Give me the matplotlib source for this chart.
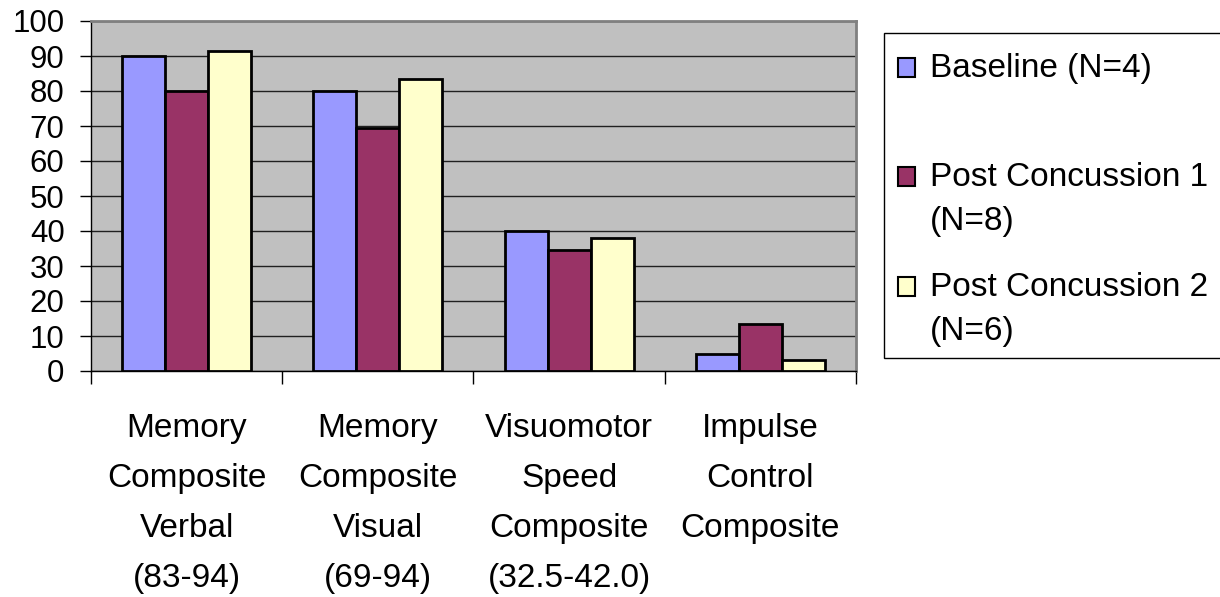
#!/usr/bin/env python3

import numpy as np
import matplotlib.pyplot as plt
from matplotlib.patches import Rectangle

categories = [
    "Memory\nComposite\nVerbal\n(83-94)",
    "Memory\nComposite\nVisual\n(69-94)",
    "Visuomotor\nSpeed\nComposite\n(32.5-42.0)",
    "Impulse\nControl\nComposite",
]
baseline = [90, 80, 40, 5]
post1 = [80, 69.4, 34.6, 13.4]
post2 = [91.5, 83.5, 37.9, 3.2]

series_names = ["Baseline (N=4)", "Post Concussion 1\n(N=8)", "Post Concussion 2\n(N=6)"]
colors = ["#9999FF", "#993366", "#FFFFCC"]

plt.rcParams['font.family'] = ['Liberation Sans', 'DejaVu Sans']

W, H = 1220, 597
fig = plt.figure(figsize=(W / 100, H / 100), dpi=100)
ax = fig.add_axes([91 / W, 1 - 371 / H, (856 - 91) / W, (371 - 21) / H])
ax.set_facecolor("#C0C0C0")

x = np.arange(len(categories))
bw = 0.225
for i, (vals, col) in enumerate(zip([baseline, post1, post2], colors)):
    ax.bar(x + (i - 1) * bw, vals, bw, color=col, edgecolor="black",
           linewidth=2.0, zorder=3)

ax.set_xlim(-0.5, len(categories) - 0.5)
ax.set_ylim(0, 100)
ax.set_yticks(np.arange(0, 101, 10))
ax.yaxis.grid(True, color="#202020", linewidth=1.0, zorder=1)
ax.set_axisbelow(True)

ax.set_xticks(x)
ax.set_xticklabels(categories, fontsize=24, linespacing=1.8)
ax.set_xticks(np.arange(-0.5, len(categories), 1), minor=True)
ax.tick_params(axis='x', which='major', length=0, pad=30)
ax.tick_params(axis='x', which='minor', length=9, width=1, direction='out', color='black')
ax.tick_params(axis='y', labelsize=22.5, length=8, width=1, pad=11)

for side in ['left', 'bottom']:
    ax.spines[side].set_color('black')
    ax.spines[side].set_linewidth(1)
for side in ['top', 'right']:
    ax.spines[side].set_color('#808080')
    ax.spines[side].set_linewidth(2)

# legend drawn by hand to keep the swatch on the first text line
fig.add_artist(Rectangle((884 / W, 1 - 358 / H), 400 / W, (358 - 33) / H,
                         transform=fig.transFigure, facecolor='white',
                         edgecolor='black', linewidth=1))
text_baselines = [77, 186, 296]
line_gap = 44
for name, col, yb in zip(series_names, colors, text_baselines):
    fig.add_artist(Rectangle((898 / W, 1 - yb / H), 17 / W, 19 / H,
                             transform=fig.transFigure, facecolor=col,
                             edgecolor='black', linewidth=1.5))
    for k, line in enumerate(name.split("\n")):
        fig.text(930 / W, 1 - (yb + k * line_gap) / H, line, fontsize=24,
                 va='baseline', ha='left')

fig.savefig("out.png", dpi=100)
